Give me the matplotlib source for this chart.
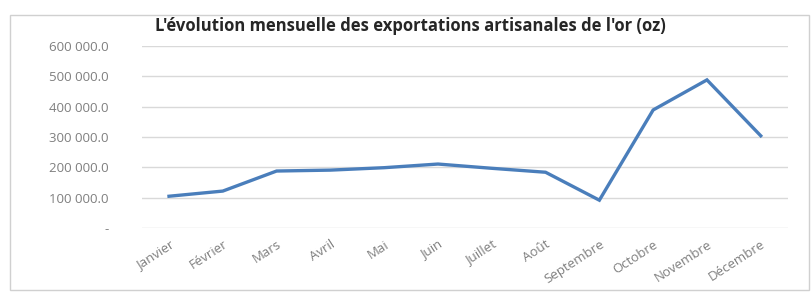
import matplotlib.pyplot as plt
from matplotlib.patches import Rectangle
from matplotlib.ticker import FuncFormatter

mois = ['Janvier', 'Février', 'Mars', 'Avril', 'Mai', 'Juin', 'Juillet',
        'Août', 'Septembre', 'Octobre', 'Novembre', 'Décembre']
exportations = [105000, 122000, 188000, 191000, 199000, 211000, 197000,
                184000, 92000, 389000, 488000, 304000]
yticks = [0, 100000, 200000, 300000, 400000, 500000, 600000]

plt.rcParams['font.family'] = ['Open Sans', 'DejaVu Sans']

fig = plt.figure(figsize=(8.12, 2.94), dpi=100)
fig.patches.append(Rectangle((0.012, 0.015), 0.984, 0.935, transform=fig.transFigure,
                             fill=False, edgecolor='#d0d0d0', linewidth=1))
ax = fig.add_axes([0.175, 0.224, 0.795, 0.62])

x = list(range(len(mois)))
ax.plot(x, exportations, color='#4a7ebb', linewidth=2.4, solid_joinstyle='miter')

ax.set_xlim(-0.5, len(mois) - 0.5)
ax.set_ylim(0, 600000)
ax.set_yticks(yticks)


def fmt(v, pos):
    if v == 0:
        return '-'
    return '{:,.1f}'.format(v).replace(',', ' ')


ax.yaxis.set_major_formatter(FuncFormatter(fmt))
ax.set_xticks(x)
ax.set_xticklabels(mois, rotation=33, ha='right', rotation_mode='anchor')
ax.tick_params(axis='both', length=0, colors='#7f7f7f', labelsize=9.5)
ax.tick_params(axis='x', pad=7)
ax.tick_params(axis='y', pad=24)
for lab in ax.get_yticklabels():
    lab.set_horizontalalignment('right')
ax.grid(axis='y', color='#d9d9d9', linewidth=1)
ax.set_axisbelow(True)
for s in ax.spines.values():
    s.set_visible(False)

fig.text(0.506, 0.912, "L'évolution mensuelle des exportations artisanales de l'or (oz)",
         ha='center', va='center', fontsize=12, fontweight='bold', color='#262626')

fig.savefig('out.png', dpi=100)
